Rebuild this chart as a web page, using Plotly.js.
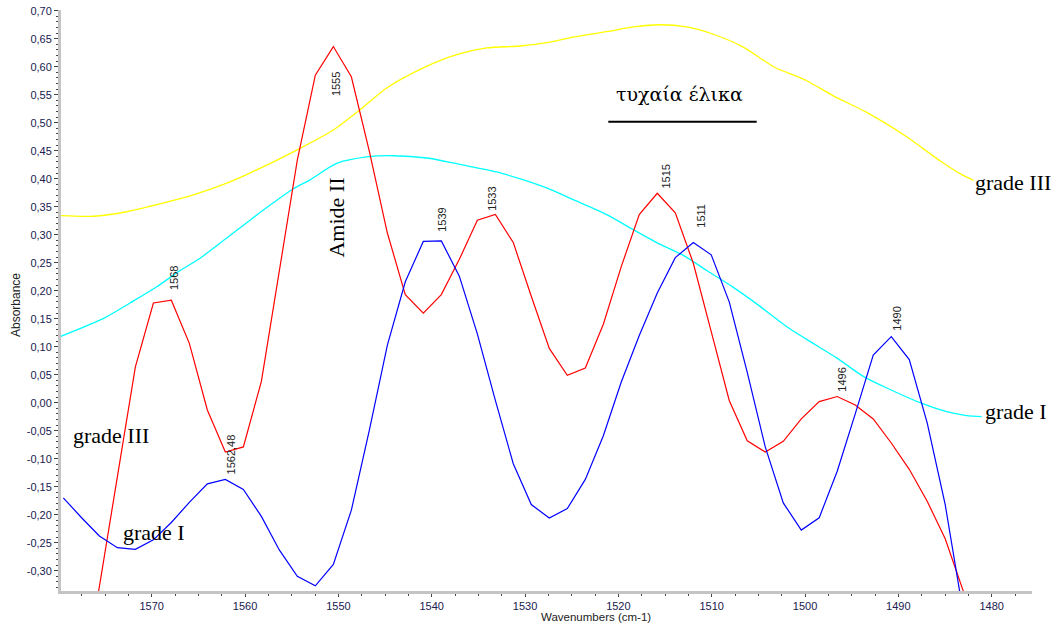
<!DOCTYPE html>
<html>
<head>
<meta charset="utf-8">
<script src="https://cdn.plot.ly/plotly-3.0.1.min.js"></script>
<style>html,body{margin:0;padding:0;background:#fff;}#chart{width:1051px;height:632px;}</style>
</head>
<body>
<div id="chart"></div>
<script>
// ---- data ----
const redX = [1577.54,1575.61,1573.68,1571.75,1569.82,1567.90,1565.97,1564.04,1562.11,1560.18,1558.25,1556.33,1554.40,1552.47,1550.54,1548.61,1546.68,1544.75,1542.83,1540.90,1538.97,1537.04,1535.11,1533.18,1531.26,1529.33,1527.40,1525.47,1523.54,1521.61,1519.69,1517.76,1515.83,1513.90,1511.97,1510.05,1508.12,1506.19,1504.26,1502.33,1500.40,1498.48,1496.55,1494.62,1492.69,1490.76,1488.83,1486.91,1484.98,1483.05,1481.12];
const redY = [-0.525,-0.329,-0.132,0.064,0.178,0.183,0.106,-0.013,-0.088,-0.079,0.038,0.237,0.433,0.585,0.636,0.582,0.449,0.303,0.193,0.160,0.193,0.256,0.326,0.336,0.286,0.190,0.097,0.049,0.062,0.140,0.243,0.336,0.374,0.339,0.249,0.127,0.004,-0.068,-0.088,-0.069,-0.029,0.002,0.011,-0.004,-0.029,-0.072,-0.119,-0.176,-0.243,-0.336,-0.46];

const blueX = [1579.47,1577.54,1575.61,1573.68,1571.75,1569.82,1567.90,1565.97,1564.04,1562.11,1560.18,1558.25,1556.33,1554.40,1552.47,1550.54,1548.61,1546.68,1544.75,1542.83,1540.90,1538.97,1537.04,1535.11,1533.18,1531.26,1529.33,1527.40,1525.47,1523.54,1521.61,1519.69,1517.76,1515.83,1513.90,1511.97,1510.05,1508.12,1506.19,1504.26,1502.33,1500.40,1498.48,1496.55,1494.62,1492.69,1490.76,1488.83,1486.91,1484.98,1483.05];
const blueY = [-0.170,-0.205,-0.238,-0.259,-0.262,-0.245,-0.214,-0.178,-0.145,-0.137,-0.155,-0.203,-0.263,-0.310,-0.327,-0.289,-0.192,-0.049,0.103,0.216,0.288,0.289,0.226,0.123,0.004,-0.109,-0.182,-0.206,-0.189,-0.137,-0.059,0.037,0.120,0.196,0.259,0.286,0.264,0.180,0.054,-0.079,-0.179,-0.2275,-0.2055,-0.1225,-0.020,0.085,0.118,0.077,-0.036,-0.182,-0.375];

const cyanX = [1579.82,1575.0,1572.33,1569.46,1567.15,1564.82,1561.96,1559.47,1556.97,1554.83,1553.04,1550.18,1546.96,1544.11,1540.53,1536.97,1533.03,1529.82,1527.32,1524.83,1521.25,1518.40,1515.89,1513.04,1510.53,1507.68,1505.18,1502.14,1499.82,1496.61,1493.75,1490.89,1487.68,1484.82,1482.68,1481.07];
const cyanY = [0.118,0.152,0.178,0.207,0.234,0.258,0.294,0.326,0.357,0.382,0.398,0.4275,0.439,0.441,0.437,0.4255,0.412,0.396,0.381,0.3625,0.336,0.309,0.286,0.263,0.236,0.206,0.1765,0.138,0.113,0.080,0.047,0.0235,0.000,-0.016,-0.023,-0.025];

const yellowX = [1579.82,1576.26,1572.68,1569.11,1565.54,1561.96,1558.40,1554.83,1550.54,1547.68,1544.82,1540.90,1537.32,1534.11,1530.54,1527.32,1524.83,1521.25,1518.40,1515.54,1512.68,1509.83,1506.61,1503.36,1499.82,1496.97,1493.39,1489.11,1485.54,1483.39,1481.97];
const yellowY = [0.334,0.333,0.341,0.355,0.371,0.392,0.4185,0.448,0.487,0.523,0.562,0.598,0.6215,0.6335,0.637,0.644,0.653,0.6625,0.671,0.675,0.671,0.658,0.635,0.600,0.575,0.548,0.5185,0.475,0.432,0.409,0.397];

const xTickVals = [1570,1560,1550,1540,1530,1520,1510,1500,1490,1480];
const xTickText = ["1570","1560","1550","1540","1530","1520","1510","1500","1490","1480"];
const yTickVals = [0.70,0.65,0.60,0.55,0.50,0.45,0.40,0.35,0.30,0.25,0.20,0.15,0.10,0.05,0.00,-0.05,-0.10,-0.15,-0.20,-0.25,-0.30];
const yTickText = ["0,70","0,65","0,60","0,55","0,50","0,45","0,40","0,35","0,30","0,25","0,20","0,15","0,10","0,05","0,00","-0,05","-0,10","-0,15","-0,20","-0,25","-0,30"];

const peakLabels = ["1568","1562,48","1555","1539","1533","1515","1511","1490","1496"];
const peakLabelX = [1567.61,1561.56,1550.25,1538.93,1533.54,1514.89,1511.11,1490.18,1496.07];
const peakLabelY = [0.2227,-0.0916,0.569,0.326,0.364,0.404,0.3345,0.1495,0.0405];

const texts = ["τυχαία έλικα","Amide II","grade III","grade I","grade I","grade III"];
const textX = [1513.50,1550.25,1574.32,1569.76,1477.40,1477.71];
const textY = [0.551,0.3307,-0.0584,-0.2327,-0.0166,0.394];
const textAngle = [0,-90,0,0,0,0];
const textSize = [19,22,22,22,22,22];

// ---- chart ----
const sans = 'Arial, "Liberation Sans", sans-serif';
const serif = '"Liberation Serif", "Times New Roman", serif';
const greekSerif = '"DejaVu Serif", "Liberation Serif", serif';

const traces = [
  {x: yellowX, y: yellowY, mode: 'lines', line: {color: '#ffff00', width: 1.3, shape: 'spline', smoothing: 0.8}},
  {x: cyanX, y: cyanY, mode: 'lines', line: {color: '#00ffff', width: 1.3, shape: 'spline', smoothing: 0.8}},
  {x: redX, y: redY, mode: 'lines', line: {color: '#ff0000', width: 1.2}},
  {x: blueX, y: blueY, mode: 'lines', line: {color: '#0000ff', width: 1.2}}
];

const annotations = [];
peakLabels.forEach((t, i) => annotations.push({
  x: peakLabelX[i], y: peakLabelY[i], xref: 'x', yref: 'y', text: t, showarrow: false,
  textangle: -90, font: {family: sans, size: 11, color: '#222222'}, xanchor: 'center', yanchor: 'middle'
}));
texts.forEach((t, i) => annotations.push({
  x: textX[i], y: textY[i], xref: 'x', yref: 'y', text: t, showarrow: false,
  textangle: textAngle[i], font: {family: i === 0 ? greekSerif : serif, size: textSize[i], color: '#000000'},
  xanchor: 'center', yanchor: 'middle'
}));
annotations.push({x: -0.0463, y: 0.4923, xref: 'paper', yref: 'paper', text: 'Absorbance', showarrow: false,
  textangle: -90, font: {family: sans, size: 12, color: '#222222'}, xanchor: 'center', yanchor: 'middle'});
annotations.push({x: 0.5505, y: -0.0448, xref: 'paper', yref: 'paper', text: 'Wavenumbers (cm-1)', showarrow: false,
  font: {family: sans, size: 11.5, color: '#222222'}, xanchor: 'center', yanchor: 'middle'});

const layout = {
  width: 1051, height: 632,
  margin: {l: 61, r: 19, t: 10, b: 41, pad: 0},
  paper_bgcolor: '#ffffff', plot_bgcolor: '#ffffff',
  showlegend: false,
  xaxis: {
    range: [1579.72, 1475.68], autorange: false,
    showgrid: false, zeroline: false, showline: true, linecolor: '#c4c4c4', linewidth: 3,
    tickmode: 'array', tickvals: xTickVals, ticktext: xTickText,
    ticks: 'outside', ticklen: 3, tickwidth: 1, tickcolor: '#444444',
    minor: {tickmode: 'linear', tick0: 1480, dtick: 2.5, ticks: 'outside', ticklen: 2, tickcolor: '#444444', showgrid: false},
    tickfont: {family: sans, size: 11, color: '#202050'}
  },
  yaxis: {
    range: [-0.3363, 0.7013], autorange: false,
    showgrid: false, zeroline: false, showline: true, linecolor: '#c4c4c4', linewidth: 3,
    tickmode: 'array', tickvals: yTickVals, ticktext: yTickText,
    ticks: 'outside', ticklen: 4, tickwidth: 1, tickcolor: '#444444',
    minor: {tickmode: 'linear', tick0: 0, dtick: 0.01, ticks: 'outside', ticklen: 2, tickcolor: '#444444', showgrid: false},
    tickfont: {family: sans, size: 11, color: '#202050'}
  },
  annotations: annotations,
  shapes: [{type: 'line', xref: 'x', yref: 'y', x0: 1521.08, x1: 1505.18, y0: 0.5018, y1: 0.5018, line: {color: '#000000', width: 2}}]
};

Plotly.newPlot('chart', traces, layout, {displayModeBar: false, staticPlot: true});
</script>
</body>
</html>
